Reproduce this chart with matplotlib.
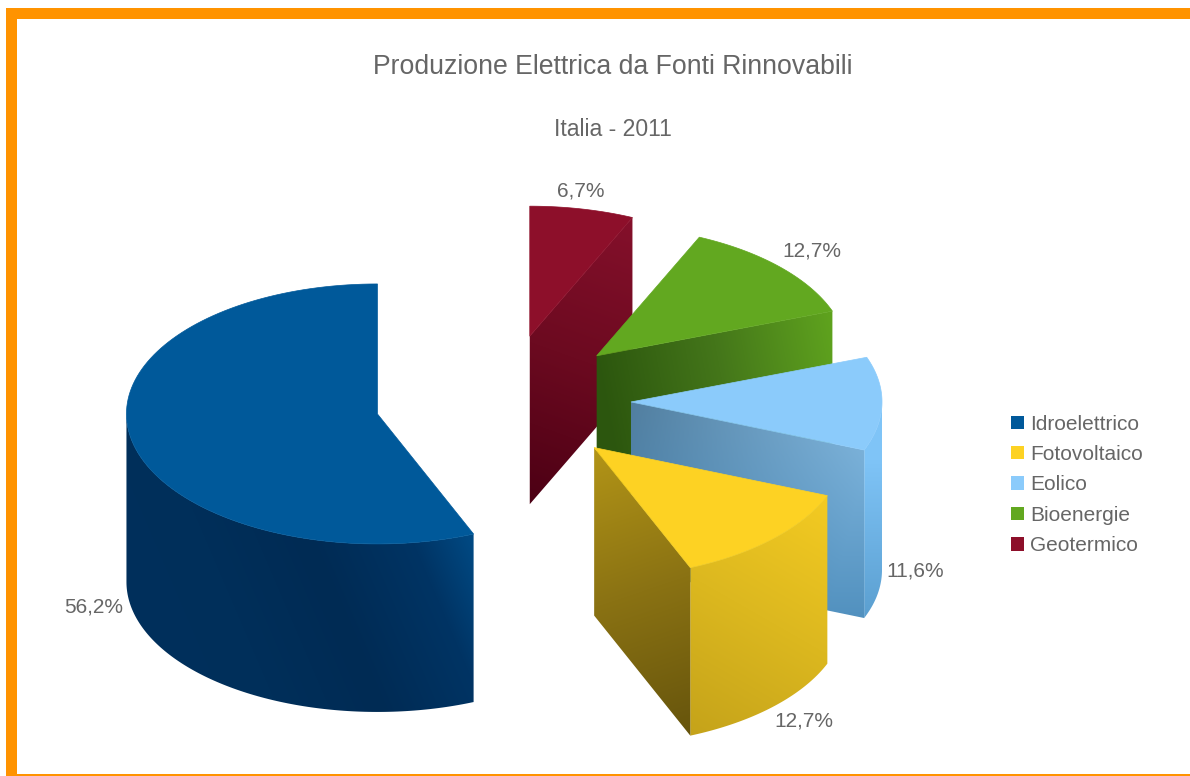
import numpy as np
import matplotlib
matplotlib.use("Agg")
import matplotlib.pyplot as plt
from matplotlib.colors import to_rgb
from matplotlib.patches import Patch, Polygon, Rectangle

# --- Dati ---
categories = ["Idroelettrico", "Fotovoltaico", "Eolico", "Bioenergie", "Geotermico"]
shares = [56.2, 12.7, 11.6, 12.7, 6.7]
colors = ["#00599a", "#fdd223", "#8bcbfb", "#62a820", "#8d0f2a"]
title = "Produzione Elettrica da Fonti Rinnovabili"
subtitle = "Italia - 2011"

# --- Geometria della torta ---
CENTER_X, CENTER_Y = 503, 401
RADIUS_X, RADIUS_Y = 251, 130
DEPTH = 168
EXPLODE = 0.51
START_ANGLE = 90

plt.rcParams["font.family"] = ["Liberation Sans", "DejaVu Sans"]
TEXT_COLOR = "#666666"

fig = plt.figure(figsize=(11.9, 7.76), dpi=100)
ax = fig.add_axes([0, 0, 1, 1])


def arc_points(apex, a0, a1):
    angles = np.radians(np.linspace(a0, a1, 120))
    return np.column_stack([apex[0] + RADIUS_X * np.cos(angles),
                            apex[1] - RADIUS_Y * np.sin(angles)])


def rim_point(apex, angle):
    return arc_points(apex, angle, angle)[0]


def shade(points, start, end, stops, fade=0.0, fade_color="#000000"):
    """Riempie un poligono con un gradiente lineare da start a end."""
    points = np.asarray(points)
    x0, y0 = np.floor(points.min(axis=0)) - 1
    x1, y1 = np.ceil(points.max(axis=0)) + 1
    xx, yy = np.meshgrid(np.arange(x0, x1 + 1), np.arange(y0, y1 + 1))
    dx, dy = end[0] - start[0], end[1] - start[1]
    t = ((xx - start[0]) * dx + (yy - start[1]) * dy) / (dx * dx + dy * dy)
    pos = np.linspace(0, 1, len(stops))
    rgb = np.array([to_rgb(c) for c in stops])
    image = np.dstack([np.interp(t, pos, rgb[:, i]) for i in range(3)])
    # Sfuma verso il basso
    mix = (fade * (yy - y0) / (y1 - y0))[:, :, None]
    image = image * (1 - mix) + np.array(to_rgb(fade_color)) * mix
    outline = Polygon(points, closed=True, facecolor="none", edgecolor="none")
    ax.add_patch(outline)
    im = ax.imshow(image, extent=(x0 - 0.5, x1 + 0.5, y1 + 0.5, y0 - 0.5),
                   aspect="auto", interpolation="bilinear", zorder=2)
    im.set_clip_path(outline)


def wall(apex, a0, a1, start, end, stops):
    rim = arc_points(apex, a0, a1)
    low = rim[::-1] + [0, DEPTH]
    shade(np.vstack([rim, low]), start, end, stops)


def cut_face(apex, angle, start, end, stops, fade=0.0, fade_color="#000000"):
    rim = rim_point(apex, angle)
    pts = [apex, rim, rim + [0, DEPTH], np.add(apex, [0, DEPTH])]
    shade(pts, start, end, stops, fade, fade_color)


def top_face(apex, a0, a1, color):
    pts = np.vstack([[apex], arc_points(apex, a0, a1)])
    ax.add_patch(Polygon(pts, closed=True, facecolor=color, edgecolor=color,
                         linewidth=0.5, zorder=3))


# --- Angoli ed esplosione delle fette ---
sweeps = np.array(shares) / sum(shares) * 360
starts = START_ANGLE + np.concatenate([[0], np.cumsum(sweeps)[:-1]])
ends = starts + sweeps
mids = np.radians((starts + ends) / 2)
apexes = np.column_stack([CENTER_X + EXPLODE * RADIUS_X * np.cos(mids),
                          CENTER_Y - EXPLODE * RADIUS_Y * np.sin(mids)])

# Disegno dal fondo verso il davanti
# Geotermico
a = apexes[4]
rim = rim_point(a, ends[3])
cut_face(a, starts[4], rim, a + [0, DEPTH], ["#85102b", "#6c0a20", "#4c0014"])
top_face(a, starts[4], ends[4], colors[4])

# Bioenergie
a = apexes[3]
rim = rim_point(a, starts[3])
cut_face(a, starts[3], a + [0, 10], rim + [0, 10], ["#2c560e", "#44761a", "#5fa31e"])
top_face(a, starts[3], ends[3], colors[3])

# Eolico
a = apexes[2]
rim = rim_point(a, starts[2])
wall(a, starts[2], 360, rim + [0, 10], rim + [0, DEPTH], ["#7fc4f7", "#5b9fd0"])
cut_face(a, starts[2], a + [0, 10], rim + [0, 20], ["#527fa0", "#88bce2"],
         fade=0.75, fade_color="#3f82b3")
top_face(a, starts[2], ends[2], colors[2])

# Fotovoltaico
a = apexes[1]
rim = rim_point(a, ends[1])
wall(a, starts[1], ends[1], rim, rim_point(a, starts[1]) + [0, DEPTH],
     ["#f4cb22", "#dcb81f", "#c5a31a"])
cut_face(a, starts[1], a, rim_point(a, starts[1]) + [0, DEPTH],
         ["#b39517", "#8a7213", "#66540c"])
top_face(a, starts[1], ends[1], colors[1])

# Idroelettrico
a = apexes[0]
wall(a, 180, ends[0], (127, 600), (477, 450),
     ["#00305c", "#002f5a", "#002b54", "#003464", "#00599a"])
top_face(a, starts[0], ends[0], colors[0])

# --- Cornice ---
ORANGE = "#ff9300"
ax.add_patch(Rectangle((6, 8), 1184, 11, facecolor=ORANGE, edgecolor="none", zorder=5))
ax.add_patch(Rectangle((6, 8), 11, 768, facecolor=ORANGE, edgecolor="none", zorder=5))
ax.add_patch(Rectangle((6, 774), 1184, 2, facecolor=ORANGE, edgecolor="none", zorder=5))

# --- Testi ---
ax.text(613, 67, title, ha="center", va="center", fontsize=19.2, color=TEXT_COLOR)
ax.text(613, 129.5, subtitle, ha="center", va="center", fontsize=16.6, color=TEXT_COLOR)

label_positions = [(94, 607), (804, 721), (915, 571), (812, 251), (581, 191)]
for share, (lx, ly) in zip(shares, label_positions):
    ax.text(lx, ly, f"{share:.1f}%".replace(".", ","), ha="center", va="center",
            fontsize=15, color=TEXT_COLOR)

handles = [Patch(facecolor=c, edgecolor="none", label=n) for c, n in zip(colors, categories)]
ax.legend(handles=handles, loc="center left", bbox_to_anchor=(1011 / 1190, 1 - 485 / 776),
          frameon=False, fontsize=15, labelcolor=TEXT_COLOR, handlelength=0.62,
          handleheight=0.62, handletextpad=0.3, labelspacing=0.55, borderpad=0, borderaxespad=0)

ax.set_xlim(0, 1190)
ax.set_ylim(776, 0)
ax.axis("off")
fig.savefig("out.png", dpi=100, facecolor="white")
